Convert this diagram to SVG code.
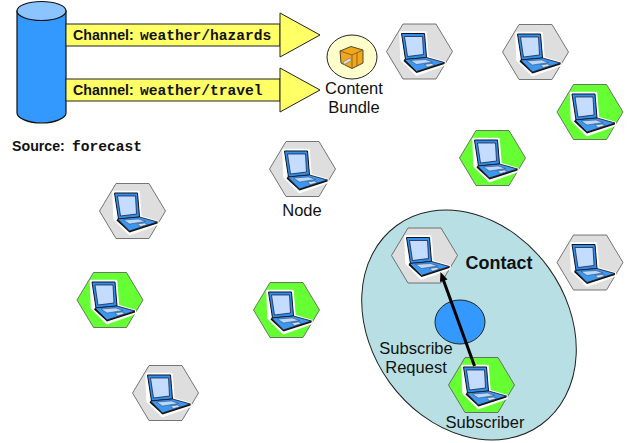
<svg xmlns="http://www.w3.org/2000/svg" width="629" height="443" viewBox="0 0 629 443">
<style>
text{font-family:"Liberation Sans",Arial,sans-serif;fill:#111}
.m{font-family:"Liberation Mono","Courier New",monospace;font-weight:700;font-size:14.600px}
.l{font-size:16.500px;text-anchor:middle}
.b{font-size:14.200px;font-weight:700}
.gray{fill:#dedede;stroke:#555;stroke-width:.8}
.green{fill:#66ff33;stroke:#555;stroke-width:.8}
.y{fill:#ffff66;stroke:#222;stroke-width:1}
</style>
<defs>
<polygon id="hex" points="-33,0 -16.500,-27.500 16.500,-27.500 33,0 16.500,27.500 -16.500,27.500"/>
<g id="laptop">
<path d="M-19,-19 L6,-19 L8,6 L25,11 L25,13 L-3,23 L-18,8 Z" fill="#fff" stroke="#fff" stroke-width="2.500" stroke-linejoin="round"/>
<path d="M-18,-18 L5,-18 L7,6 L-14,8 Z" fill="#2f8fe8" stroke="#112" stroke-width="1"/>
<path d="M-15,-15 L3,-15 L4,3 L-12,5 Z" fill="#c4dcff" stroke="#113" stroke-width=".7"/>
<path d="M-15,8 L7,6 L25,11 L-3,20 Z" fill="#3d97ee" stroke="#112" stroke-width=".8"/>
<path d="M-9,9 L6,8 L13,10.500 L-3,13 Z" fill="#bcd8f8" stroke="#124" stroke-width=".4"/>
<path d="M5,13 L12,12 L15,13.500 L8,15.500 Z" fill="#cfe3fa" stroke="#124" stroke-width=".4"/>
<path d="M-15,8 L-3,20 L25,11 L25,12.500 L-3,21.500 L-16,9.500 Z" fill="#111"/>
</g>
</defs>
<g id="source">
<path d="M17,11 V113 C17,118 28,123 41.500,123 C55,123 66,118 66,113 V11 Z" fill="#3399ff" stroke="#111" stroke-width="1.200"/>
<ellipse cx="41.500" cy="11" rx="24.500" ry="9.500" fill="#8cc4ff" stroke="#111" stroke-width="1.200"/>
<text x="12" y="151" class="b">Source: <tspan class="m" x="72">forecast</tspan></text>
</g>
<g id="channel-hazards">
<rect x="66" y="24" width="214" height="22" class="y"/>
<polygon points="280,13 320,35 280,57" class="y"/>
<text x="73" y="40" class="b">Channel: <tspan class="m" x="140">weather/hazards</tspan></text>
</g>
<g id="channel-travel">
<rect x="66" y="79" width="214" height="22" class="y"/>
<polygon points="280,68 320,90 280,112" class="y"/>
<text x="73" y="95" class="b">Channel: <tspan class="m" x="140">weather/travel</tspan></text>
</g>
<g id="content-bundle">
<ellipse cx="352" cy="57" rx="25" ry="22" fill="#ffffcc" stroke="#222" stroke-width="1"/>
<path d="M340,51 L351,46.500 L363,50 L363,63 L352,68.500 L341,63 Z" fill="#eda81c" stroke="#543" stroke-width="1" stroke-linejoin="round"/>
<path d="M340,51 L352,55 L363,50 M352,55 L352,68.500 M357,53 L357,66" fill="none" stroke="#865010" stroke-width=".8"/>
<path d="M343,62 L350,58 L351.500,60.500 L344.500,64.500 Z" fill="#ddd" stroke="#666" stroke-width=".5"/>
<text x="354" y="94" class="l">Content</text>
<text x="354" y="113" class="l">Bundle</text>
</g>
<g id="contact">
<ellipse cx="469" cy="325" rx="123" ry="98" transform="rotate(54 469 325)" fill="#b8dfe3" stroke="#222" stroke-width="1"/>
<ellipse cx="460" cy="322" rx="25" ry="22" fill="#3399ff" stroke="#222" stroke-width="1"/>
<text x="499" y="269" style="font-size:18px;font-weight:700;text-anchor:middle">Contact</text>
<text x="416" y="354" class="l">Subscribe</text>
<text x="416" y="373" class="l">Request</text>
<text x="485" y="428" class="l">Subscriber</text>
</g>
<g id="node-1" transform="translate(419.500 51.500)"><use href="#hex" class="gray"/><use href="#laptop"/></g>
<g id="node-2" transform="translate(535.500 52)"><use href="#hex" class="gray"/><use href="#laptop"/></g>
<g id="node-3" transform="translate(590 112)"><use href="#hex" class="green"/><use href="#laptop"/></g>
<g id="node-4" transform="translate(492.500 158)"><use href="#hex" class="green"/><use href="#laptop"/></g>
<g id="node-5" transform="translate(302.500 169)"><use href="#hex" class="gray"/><use href="#laptop"/></g>
<text id="node-label" x="302" y="216" class="l">Node</text>
<g id="node-6" transform="translate(132.500 211)"><use href="#hex" class="gray"/><use href="#laptop"/></g>
<g id="node-7" transform="translate(110 300)"><use href="#hex" class="green"/><use href="#laptop"/></g>
<g id="node-8" transform="translate(286.500 310)"><use href="#hex" class="green"/><use href="#laptop"/></g>
<g id="node-9" transform="translate(165.500 393)"><use href="#hex" class="gray"/><use href="#laptop"/></g>
<g id="node-10" transform="translate(424.500 255.500)"><use href="#hex" class="gray"/><use href="#laptop"/></g>
<g id="node-11" transform="translate(590 262.500)"><use href="#hex" class="gray"/><use href="#laptop"/></g>
<g id="node-12" transform="translate(481.500 385)"><use href="#hex" class="green"/><use href="#laptop"/></g>
<g id="connectors">
<line x1="474.500" y1="366" x2="443" y2="279" stroke="#000" stroke-width="3"/>
<polygon points="440.500,272 447.500,279.500 440,282" fill="#000"/>
</g>
</svg>
